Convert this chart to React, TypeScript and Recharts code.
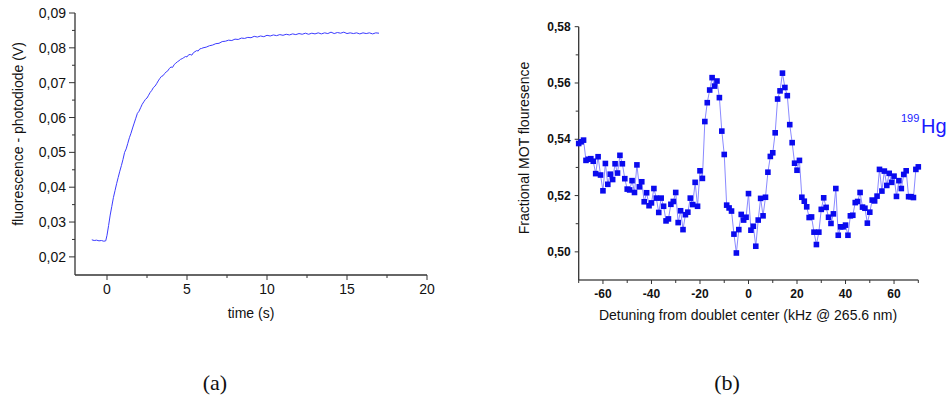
import React from 'react';
import { LineChart, Line, XAxis, YAxis } from 'recharts';

// ---------- Panel (a): fluorescence vs time ----------
const timeS = [
  -0.95, -0.8, -0.65, -0.5, -0.35, -0.2, -0.08, 0.0, 0.1, 0.2, 0.3, 0.4, 0.5, 0.6, 0.7, 0.8, 0.9, 1.0,
  1.1, 1.2, 1.3, 1.4, 1.5, 1.6, 1.7, 1.8, 1.9, 2.0, 2.1, 2.2, 2.3, 2.4, 2.5, 2.6, 2.7, 2.8, 2.9, 3.0,
  3.1, 3.2, 3.3, 3.4, 3.5, 3.6, 3.7, 3.8, 3.9, 4.0, 4.1, 4.2, 4.3, 4.4, 4.5, 4.6, 4.7, 4.8, 4.9, 5.0,
  5.1, 5.2, 5.3, 5.4, 5.5, 5.6, 5.7, 5.8, 5.9, 6.0, 6.2, 6.4, 6.6, 6.8, 7.0, 7.2, 7.4, 7.6, 7.8, 8.0,
  8.2, 8.4, 8.6, 8.8, 9.0, 9.2, 9.4, 9.6, 9.8, 10.0, 10.2, 10.4, 10.6, 10.8, 11.0, 11.2, 11.4, 11.6,
  11.8, 12.0, 12.2, 12.4, 12.6, 12.8, 13.0, 13.2, 13.4, 13.6, 13.8, 14.0, 14.2, 14.4, 14.6, 14.8,
  15.0, 15.2, 15.4, 15.6, 15.8, 16.0, 16.2, 16.4, 16.6, 16.8, 17.0,
];
const photodiodeV = [
  0.0249, 0.0247, 0.0248, 0.0246, 0.0247, 0.0245, 0.0246, 0.0262, 0.029, 0.032, 0.0345, 0.037, 0.039,
  0.041, 0.0428, 0.0446, 0.0462, 0.048, 0.05, 0.051, 0.0526, 0.0542, 0.0555, 0.057, 0.0584, 0.0598,
  0.0612, 0.0618, 0.0628, 0.0638, 0.0645, 0.0652, 0.0656, 0.0664, 0.0672, 0.0678, 0.0686, 0.069,
  0.0697, 0.0705, 0.0712, 0.0718, 0.072, 0.0726, 0.0731, 0.0734, 0.0741, 0.0745, 0.0744, 0.0752,
  0.0756, 0.076, 0.0763, 0.0767, 0.0769, 0.0772, 0.0775, 0.0774, 0.078, 0.0781, 0.0779, 0.0786,
  0.0789, 0.0792, 0.0791, 0.0797, 0.0798, 0.08, 0.0802, 0.0806, 0.0808, 0.0812, 0.0813, 0.0818,
  0.0819, 0.0822, 0.0821, 0.0825, 0.0824, 0.0828, 0.0827, 0.083, 0.0829, 0.0833, 0.0831, 0.0834,
  0.0832, 0.0836, 0.0834, 0.0837, 0.0835, 0.0838, 0.0836, 0.0839, 0.0837, 0.084, 0.0838, 0.0841,
  0.0839, 0.0842, 0.0839, 0.0842, 0.084, 0.0843, 0.084, 0.0843, 0.0841, 0.0845, 0.0841, 0.0844,
  0.0842, 0.0845, 0.0841, 0.0843, 0.0841, 0.0843, 0.084, 0.0843, 0.0841, 0.0843, 0.084, 0.0843, 0.0842,
];
const timeTicks = [0, 2.5, 5, 7.5, 10, 12.5, 15, 17.5, 20];
const timeMajor = [0, 5, 10, 15, 20];
const voltTicks = [0.02, 0.025, 0.03, 0.035, 0.04, 0.045, 0.05, 0.055, 0.06, 0.065, 0.07, 0.075, 0.08, 0.085, 0.09];
const voltMajor = [0.02, 0.03, 0.04, 0.05, 0.06, 0.07, 0.08, 0.09];

// ---------- Panel (b): MOT fluorescence vs detuning ----------
const detuningKHz = [
  -70, -69, -68, -67, -66, -65, -64, -63, -62, -61, -60, -59, -58, -57, -56, -55, -54, -53, -52, -51,
  -50, -49, -48, -47, -46, -45, -44, -43, -42, -41, -40, -39, -38, -37, -36, -35, -34, -33, -32, -31,
  -30, -29, -28, -27, -26, -25, -24, -23, -22, -21, -20, -19, -18, -17, -16, -15, -14, -13, -12, -11,
  -10, -9, -8, -7, -6, -5, -4, -3, -2, -1, 0, 1, 2, 3, 4, 5, 6, 7, 8, 9, 10, 11, 12, 13, 14, 15, 16,
  17, 18, 19, 20, 21, 22, 23, 24, 25, 26, 27, 28, 29, 30, 31, 32, 33, 34, 35, 36, 37, 38, 39, 40, 41,
  42, 43, 44, 45, 46, 47, 48, 49, 50, 51, 52, 53, 54, 55, 56, 57, 58, 59, 60, 61, 62, 63, 64, 65, 66,
  67, 68, 69, 70,
];
const motFluor = [
  0.5385, 0.5391, 0.5397, 0.5325, 0.5329, 0.5331, 0.5322, 0.5278, 0.5338, 0.5273, 0.5217, 0.5314,
  0.524, 0.5276, 0.5257, 0.5313, 0.528, 0.5343, 0.5313, 0.526, 0.5223, 0.522, 0.5253, 0.5211, 0.5309,
  0.5231, 0.5249, 0.5178, 0.521, 0.5164, 0.5174, 0.5225, 0.5191, 0.514, 0.5191, 0.5162, 0.511, 0.5117,
  0.5169, 0.5179, 0.5211, 0.5104, 0.5146, 0.5079, 0.5132, 0.5141, 0.5191, 0.5168, 0.5247, 0.5162,
  0.5288, 0.5261, 0.5463, 0.553, 0.5575, 0.5619, 0.5589, 0.5607, 0.5548, 0.5429, 0.5346, 0.5166,
  0.5156, 0.5145, 0.5063, 0.4996, 0.5079, 0.5133, 0.5113, 0.5123, 0.5207, 0.5077, 0.5091, 0.502,
  0.5113, 0.519, 0.5128, 0.5194, 0.5283, 0.5339, 0.5352, 0.5423, 0.5543, 0.5572, 0.5635, 0.5584,
  0.5555, 0.5452, 0.5388, 0.5315, 0.529, 0.5325, 0.5194, 0.518, 0.516, 0.5122, 0.5124, 0.507, 0.5026,
  0.507, 0.5151, 0.5192, 0.5158, 0.5123, 0.5101, 0.5135, 0.5225, 0.5059, 0.5089, 0.5089, 0.5095,
  0.5059, 0.5128, 0.513, 0.5175, 0.5179, 0.5211, 0.5159, 0.5155, 0.5102, 0.5141, 0.5184, 0.5181,
  0.5198, 0.5293, 0.5216, 0.5287, 0.5236, 0.5279, 0.5247, 0.5269, 0.5197, 0.5253, 0.5225, 0.5275,
  0.5288, 0.5196, 0.5196, 0.5193, 0.5293, 0.5302,
];
const detTicks = [-70, -60, -50, -40, -30, -20, -10, 0, 10, 20, 30, 40, 50, 60, 70];
const detMajor = [-60, -40, -20, 0, 20, 40, 60];
const fluorTicks = [0.5, 0.51, 0.52, 0.53, 0.54, 0.55, 0.56, 0.57, 0.58];
const fluorMajor = [0.5, 0.52, 0.54, 0.56, 0.58];

const dataA = timeS.map((t, i) => ({ t, v: photodiodeV[i] }));
const dataB = detuningKHz.map((d, i) => ({ d, f: motFluor[i] }));

const SANS = 'Liberation Sans, Arial, sans-serif';
const AXIS = '#333';

const isIn = (arr: number[], v: number) => arr.some((m) => Math.abs(m - v) < 1e-9);
const comma2 = (v: number) => v.toFixed(2).replace('.', ',');

function XTick(props: any) {
  const { x, y, payload, majors, fmt, fontSize, fontWeight, majorLen, minorLen, gap } = props;
  const v = payload.value;
  const major = isIn(majors, v);
  return (
    <g>
      <line x1={x} x2={x} y1={y} y2={y + (major ? majorLen : minorLen)} stroke={AXIS} strokeWidth={1} />
      {major && (
        <text x={x} y={y + gap} textAnchor="middle" dominantBaseline="central" fontFamily={SANS}
          fontSize={fontSize} fontWeight={fontWeight} fill="#111">{fmt(v)}</text>
      )}
    </g>
  );
}

function YTick(props: any) {
  const { x, y, payload, majors, fmt, fontSize, fontWeight, majorLen, minorLen, gap } = props;
  const v = payload.value;
  const major = isIn(majors, v);
  return (
    <g>
      <line x1={x} x2={x - (major ? majorLen : minorLen)} y1={y} y2={y} stroke={AXIS} strokeWidth={1} />
      {major && (
        <text x={x - gap} y={y} textAnchor="end" dominantBaseline="central" fontFamily={SANS}
          fontSize={fontSize} fontWeight={fontWeight} fill="#111">{fmt(v)}</text>
      )}
    </g>
  );
}

function SquareDot(props: any) {
  const { cx, cy, index } = props;
  if (cx == null || cy == null) return <g key={`d${index}`} />;
  return <rect key={`d${index}`} x={cx - 2.8} y={cy - 2.8} width={5.6} height={5.6} fill="#0a0aee" />;
}

export default function App() {
  return (
    <div style={{ position: 'relative', width: 947, height: 398, background: '#fff' }}>
      <style>{`body{margin:0;background:#fff}`}</style>
      {/* Panel (a) */}
      <div style={{ position: 'absolute', left: 0, top: 0 }}>
        <LineChart width={460} height={398} data={dataA} margin={{ top: 13, right: 33, bottom: 93, left: 15 }}>
          <XAxis dataKey="t" type="number" domain={[-2, 20]} ticks={timeTicks} interval={0}
            height={30} tickSize={0} tickMargin={0} tickLine={false}
            axisLine={{ stroke: AXIS, strokeWidth: 1.3 }}
            tick={(p: any) => <XTick {...p} majors={timeMajor} fmt={(v: number) => String(v)} fontSize={14} fontWeight={400} majorLen={5} minorLen={3} gap={14} />} />
          <YAxis dataKey="v" type="number" domain={[0.0148, 0.09]} ticks={voltTicks} interval={0}
            width={60} tickSize={0} tickMargin={0} tickLine={false}
            axisLine={{ stroke: AXIS, strokeWidth: 1.3 }}
            tick={(p: any) => <YTick {...p} majors={voltMajor} fmt={comma2} fontSize={14} fontWeight={400} majorLen={6} minorLen={3} gap={9} />} />
          <Line type="linear" dataKey="v" stroke="#3c3cff" strokeWidth={1} dot={false} isAnimationActive={false} />
        </LineChart>
      </div>
      {/* Panel (b) */}
      <div style={{ position: 'absolute', left: 500, top: 0 }}>
        <LineChart width={447} height={398} data={dataB} margin={{ top: 26.7, right: 28.7, bottom: 88, left: 18.7 }}>
          <XAxis dataKey="d" type="number" domain={[-70, 70]} ticks={detTicks} interval={0}
            height={30} tickSize={0} tickMargin={0} tickLine={false}
            axisLine={{ stroke: '#555', strokeWidth: 1.3 }}
            tick={(p: any) => <XTick {...p} majors={detMajor} fmt={(v: number) => String(v)} fontSize={12} fontWeight={700} majorLen={4} minorLen={3} gap={14} />} />
          <YAxis dataKey="f" type="number" domain={[0.49, 0.58]} ticks={fluorTicks} interval={0}
            width={60} tickSize={0} tickMargin={0} tickLine={false}
            axisLine={{ stroke: AXIS, strokeWidth: 1.3 }}
            tick={(p: any) => <YTick {...p} majors={fluorMajor} fmt={comma2} fontSize={12} fontWeight={700} majorLen={4} minorLen={3} gap={8} />} />
          <Line type="linear" dataKey="f" stroke="#8a8aff" strokeWidth={1}
            dot={(p: any) => <SquareDot {...p} />} activeDot={false} isAnimationActive={false} />
        </LineChart>
      </div>
      {/* Titles / annotations */}
      <svg width={947} height={398} style={{ position: 'absolute', left: 0, top: 0, pointerEvents: 'none' }}>
        <text x={18} y={134} transform="rotate(-90 18 134)" textAnchor="middle" dominantBaseline="central"
          fontFamily={SANS} fontSize={14} fill="#111">fluorescence - photodiode (V)</text>
        <text x={251} y={313} textAnchor="middle" dominantBaseline="central" fontFamily={SANS} fontSize={14} fill="#111">time (s)</text>
        <text x={524} y={148} transform="rotate(-90 524 148)" textAnchor="middle" dominantBaseline="central"
          fontFamily={SANS} fontSize={14} fill="#111">Fractional MOT flouresence</text>
        <text x={748} y={315} textAnchor="middle" dominantBaseline="central" fontFamily={SANS} fontSize={14} fill="#111">Detuning from doublet center (kHz @ 265.6 nm)</text>
        <text x={901} y={122} fontFamily={SANS} fontSize={11} fill="#1a1aff">199</text>
        <text x={921} y={133} fontFamily={SANS} fontSize={20} fill="#1a1aff">Hg</text>
        <text x={215} y={382} textAnchor="middle" dominantBaseline="central" fontFamily="Liberation Serif, DejaVu Serif, serif" fontSize={22} fill="#111">(a)</text>
        <text x={727} y={382} textAnchor="middle" dominantBaseline="central" fontFamily="Liberation Serif, DejaVu Serif, serif" fontSize={22} fill="#111">(b)</text>
      </svg>
    </div>
  );
}
